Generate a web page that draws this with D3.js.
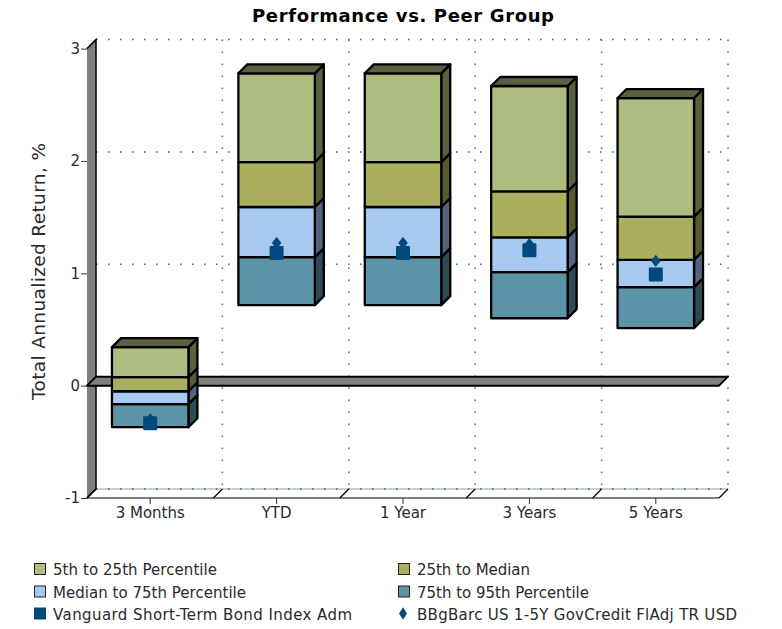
<!DOCTYPE html>
<html><head><meta charset="utf-8">
<script src="https://cdnjs.cloudflare.com/ajax/libs/d3/7.8.5/d3.min.js"></script>
<style>html,body{margin:0;padding:0;background:#fff}svg{display:block}text{font-family:"DejaVu Sans",sans-serif;fill:#2a2a2a}</style>
</head><body><div id="c"></div>
<script>
const categories=["3 Months","YTD","1 Year","3 Years","5 Years"];
const yTicks=[-1,0,1,2,3];
const seriesNames=["5th to 25th Percentile","25th to Median","Median to 75th Percentile","75th to 95th Percentile"];
const p5=[0.343,2.78,2.78,2.667,2.56];
const p25=[0.076,1.99,1.99,1.73,1.505];
const p50=[-0.05,1.59,1.59,1.32,1.12];
const p75=[-0.165,1.144,1.144,1.01,0.877];
const p95=[-0.37,0.717,0.717,0.60,0.512];
const fund=[-0.334,1.18,1.18,1.206,0.99];
const benchmark=[-0.30,1.27,1.27,1.26,1.11];
const fundName="Vanguard Short-Term Bond Index Adm";
const benchName="BBgBarc US 1-5Y GovCredit FlAdj TR USD";
const colors=["#adbc7f","#a9af5f","#a7c9f0","#5d93a6"];
const sideColors=["#595f40","#565a30","#546480","#2f4a54"];
const markerColor="#004a7c";
const legendWidths=[164,113,193,172];

const svg=d3.select("#c").append("svg").attr("width",782).attr("height",629);
const dp=9;
const x=d3.scaleBand().domain(categories).range([87,719]);
const y=d3.scaleLinear().domain([-1,3]).range([498,48.6]);
const inner=x.bandwidth()*0.605;
const gx=c=>x(c)+x.bandwidth()/2;
const [L,R]=x.range();

// floor back line, then back-wall gridlines
svg.append("line").attr("x1",L+dp).attr("x2",R+dp).attr("y1",y(-1)-dp).attr("y2",y(-1)-dp).attr("stroke","#999").attr("stroke-width",1);
const grid=svg.append("g").attr("stroke","#2f7098").attr("stroke-width",1.5).attr("stroke-dasharray","1.5 10.5");
yTicks.filter(t=>t!==0).forEach(t=>grid.append("line").attr("x1",L+dp).attr("x2",R+dp).attr("y1",y(t)-dp).attr("y2",y(t)-dp));
categories.forEach(c=>grid.append("line").attr("x1",x(c)+x.bandwidth()+dp).attr("x2",x(c)+x.bandwidth()+dp).attr("y1",y(3)-dp).attr("y2",y(-1)-dp));

// left wall: fill plus top diagonal and back edge
svg.append("path").attr("fill","#808080").attr("d",`M${L},${y(3)}L${L+dp},${y(3)-dp}V${y(-1)-dp}L${L},${y(-1)}Z`);
svg.append("path").attr("fill","none").attr("stroke","#000").attr("stroke-width",1.5).attr("d",`M${L},${y(3)}L${L+dp},${y(3)-dp}V${y(-1)-dp}L${L},${y(-1)}`);
// zero plane
svg.append("path").attr("fill","#808080").attr("stroke","#000").attr("stroke-width",2).attr("stroke-linejoin","round")
 .attr("d",`M${L},${y(0)}L${L+dp},${y(0)-dp}H${R+dp}L${R},${y(0)}Z`);
// floor
svg.append("line").attr("x1",L).attr("x2",R).attr("y1",y(-1)).attr("y2",y(-1)).attr("stroke","#555").attr("stroke-width",1.5);
const floor=svg.append("g").attr("stroke","#000").attr("stroke-width",1.2);
[L,...categories.map(c=>x(c)+x.bandwidth())].forEach(v=>floor.append("line").attr("x1",v).attr("x2",v+dp).attr("y1",y(-1)).attr("y2",y(-1)-dp));

// boxes
const layers=[[p5,p25],[p25,p50],[p50,p75],[p75,p95]];
categories.forEach((c,i)=>{
  const g=svg.append("g").attr("stroke","#000").attr("stroke-width",2.3).attr("stroke-linejoin","round");
  const x0=gx(c)-inner/2,x1=gx(c)+inner/2;
  for(let k=3;k>=0;k--){
    const t=y(layers[k][0][i]),b=y(layers[k][1][i]);
    g.append("path").attr("fill",sideColors[k]).attr("d",`M${x1},${t}L${x1+dp},${t-dp}V${b-dp}L${x1},${b}Z`);
    g.append("rect").attr("x",x0).attr("y",t).attr("width",x1-x0).attr("height",b-t).attr("fill",colors[k]);
  }
  const t=y(p5[i]);
  g.append("path").attr("fill",sideColors[0]).attr("d",`M${x0},${t}L${x0+dp},${t-dp}H${x1+dp}L${x1},${t}Z`);
});

// markers
const diamond=d3.symbol(d3.symbolDiamond,60)();
categories.forEach((c,i)=>{
  svg.append("path").attr("fill",markerColor).attr("d",diamond).attr("transform",`translate(${gx(c)},${y(benchmark[i])}) scale(1.15,.85)`);
  svg.append("rect").attr("fill",markerColor).attr("x",gx(c)-7).attr("y",y(fund[i])-7).attr("width",14).attr("height",14).attr("rx",1);
});

// axes
const ya=svg.append("g").attr("transform",`translate(${L},0)`).call(d3.axisLeft(y).tickValues(yTicks).tickFormat(d=>String(d)).tickSize(6).tickPadding(1));
ya.select(".domain").remove();
ya.selectAll("text").style("font-size","15px");
ya.selectAll("line").attr("stroke","#333");
const xa=svg.append("g").attr("transform",`translate(0,${y(-1)})`).call(d3.axisBottom(x).tickSize(6).tickPadding(3));
xa.select(".domain").remove();
xa.selectAll("text").style("font-size","15px");
xa.selectAll("line").attr("stroke","#333");

svg.append("text").attr("x",403).attr("y",22).attr("text-anchor","middle").attr("textLength",302).style("font-size","18px").style("font-weight","bold").style("fill","#000").text("Performance vs. Peer Group");
svg.append("text").attr("transform","translate(45,271.5) rotate(-90)").attr("text-anchor","middle").attr("textLength",257).style("font-size","18.5px").text("Total Annualized Return, %");

// legend
const lx=[34,398],ly=[570,592.5,614.5];
seriesNames.forEach((n,i)=>{
  const X=lx[i%2],Y=ly[Math.floor(i/2)];
  svg.append("rect").attr("x",X+.5).attr("y",Y-6.5).attr("width",11).attr("height",11).attr("fill",colors[i]).attr("stroke","#222").attr("stroke-width",1);
  svg.append("text").attr("x",X+19).attr("y",Y+5).attr("textLength",legendWidths[i]).style("font-size","15px").text(n);
});
svg.append("rect").attr("x",lx[0]).attr("y",ly[2]-7).attr("width",12).attr("height",12).attr("fill",markerColor);
svg.append("text").attr("x",lx[0]+19).attr("y",ly[2]+5).attr("textLength",299).style("font-size","15px").text(fundName);
svg.append("path").attr("fill",markerColor).attr("d",diamond).attr("transform",`translate(${lx[1]+5},${ly[2]-1}) scale(.95,.85)`);
svg.append("text").attr("x",lx[1]+19).attr("y",ly[2]+5).attr("textLength",320).style("font-size","15px").text(benchName);
</script></body></html>
